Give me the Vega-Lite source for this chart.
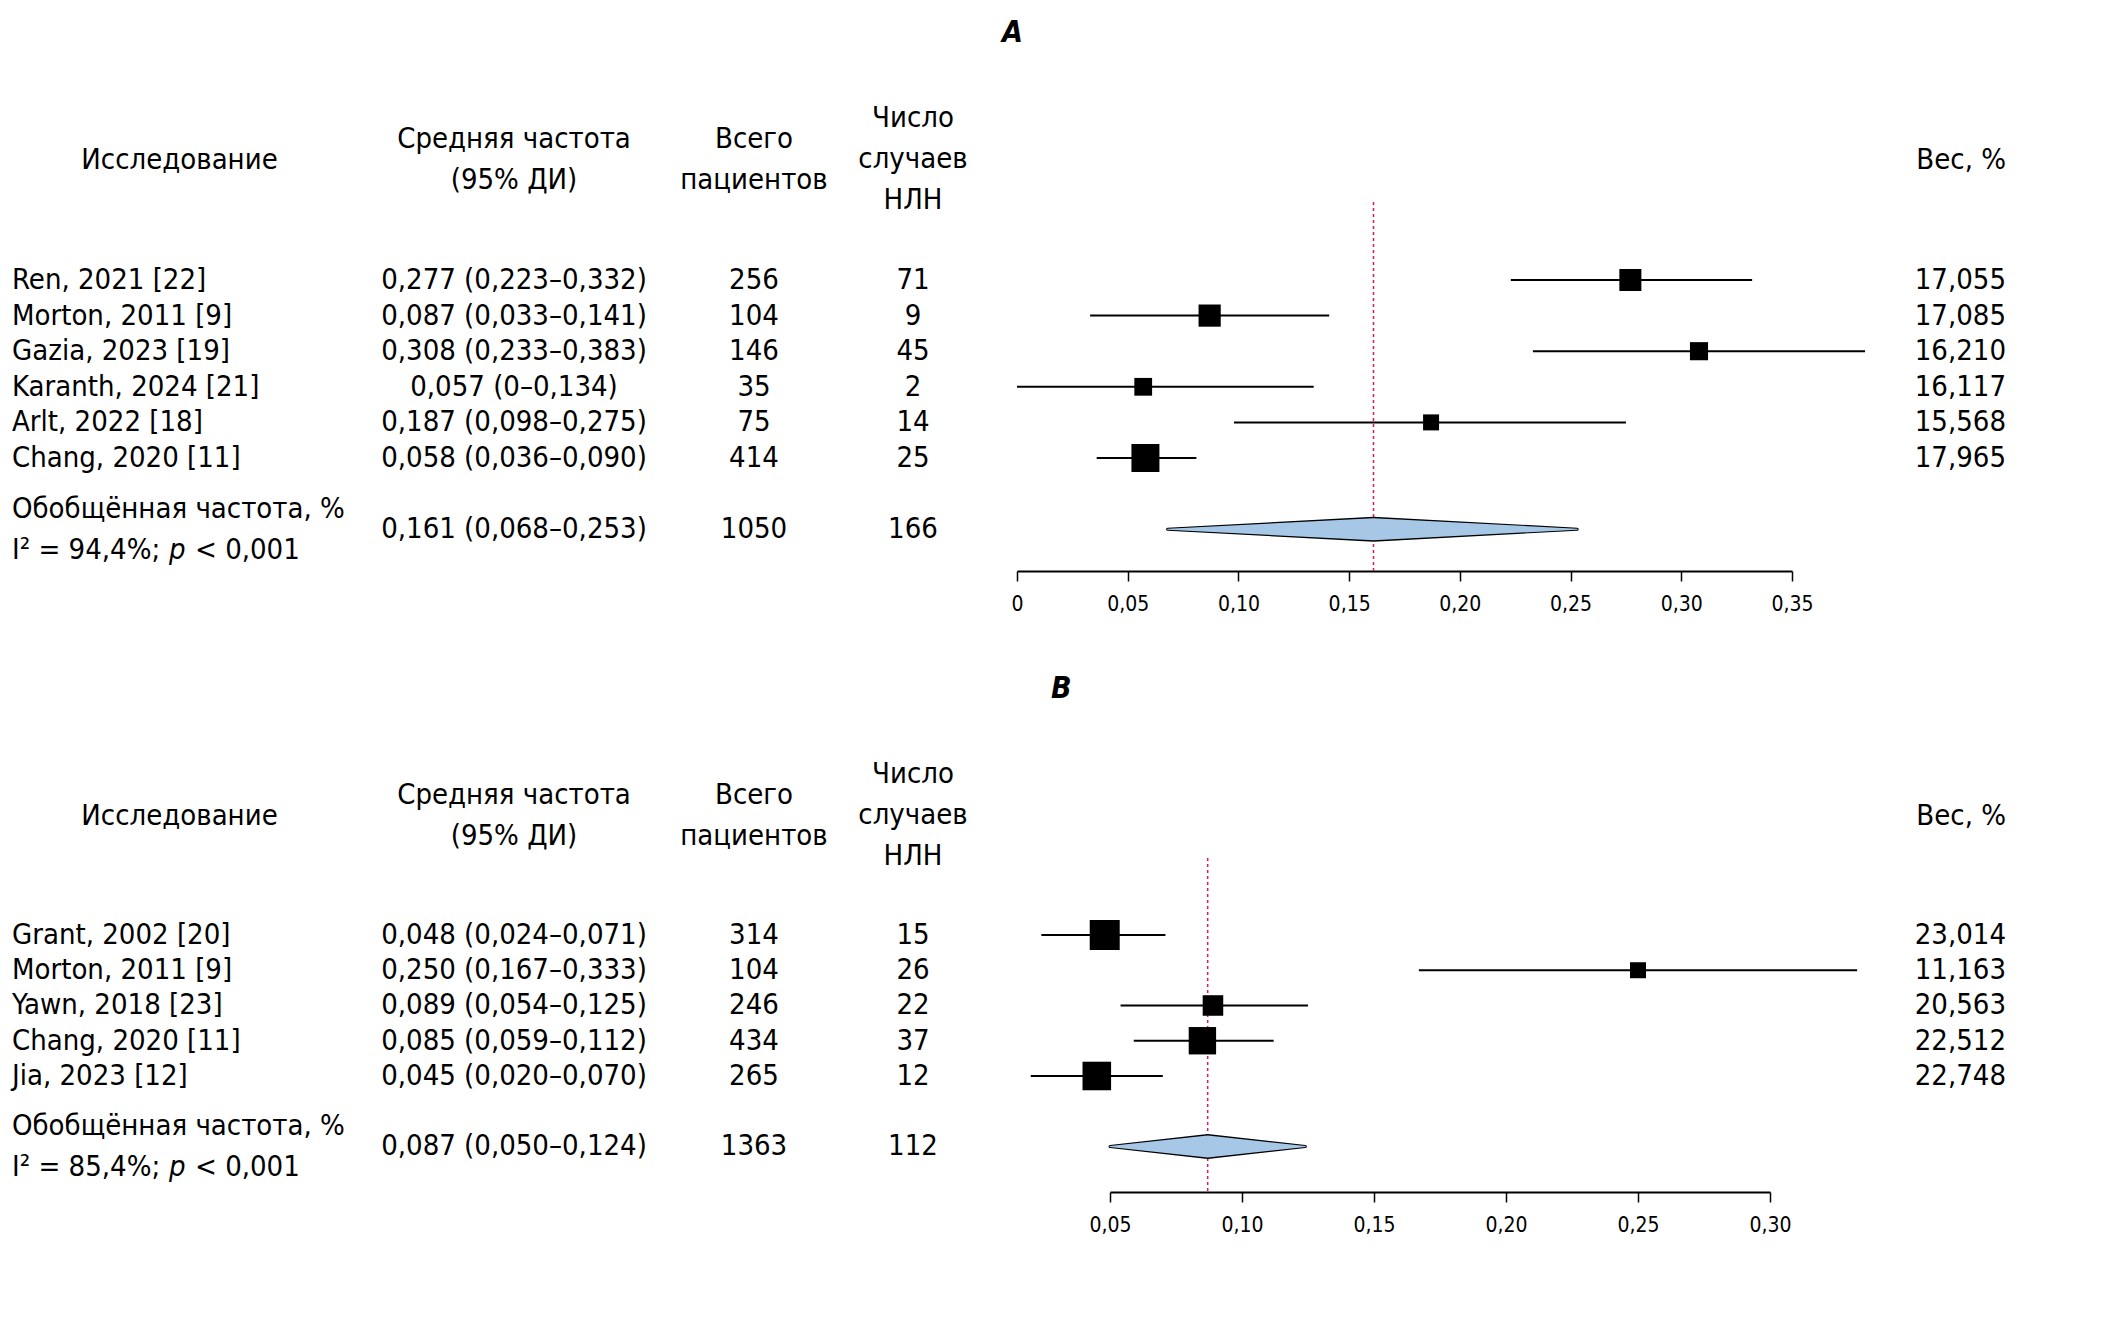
{
  "$schema": "https://vega.github.io/schema/vega-lite/v6.json",
  "background": "white",
  "padding": {"left": 12, "top": 18, "right": 0, "bottom": 0},
  "columns": 6,
  "bounds": "flush",
  "spacing": {"row": 287, "column": 0},
  "config": {
    "font": "DejaVu Sans Condensed, Liberation Sans, sans-serif",
    "view": {"stroke": null},
    "text": {"fontSize": 29, "color": "black"},
    "title": {"fontSize": 29, "fontWeight": "normal", "baseline": "middle", "offset": 27, "lineHeight": 41, "frame": "group", "color": "black", "font": "DejaVu Sans Condensed, Liberation Sans, sans-serif"},
    "locale": {"number": {"decimal": ",", "thousands": " ", "grouping": [3], "currency": ["", ""]}}
  },
  "datasets": {
    "a": [
      {"kind": "study", "row": 1, "study": "Ren, 2021 [22]", "est": 0.277, "lo": 0.223, "hi": 0.332, "ci": "0,277 (0,223–0,332)", "n": 256, "events": 71, "weight": 17.055},
      {"kind": "study", "row": 2, "study": "Morton, 2011 [9]", "est": 0.087, "lo": 0.033, "hi": 0.141, "ci": "0,087 (0,033–0,141)", "n": 104, "events": 9, "weight": 17.085},
      {"kind": "study", "row": 3, "study": "Gazia, 2023 [19]", "est": 0.308, "lo": 0.233, "hi": 0.383, "ci": "0,308 (0,233–0,383)", "n": 146, "events": 45, "weight": 16.21},
      {"kind": "study", "row": 4, "study": "Karanth, 2024 [21]", "est": 0.057, "lo": 0.0, "hi": 0.134, "ci": "0,057 (0–0,134)", "n": 35, "events": 2, "weight": 16.117},
      {"kind": "study", "row": 5, "study": "Arlt, 2022 [18]", "est": 0.187, "lo": 0.098, "hi": 0.275, "ci": "0,187 (0,098–0,275)", "n": 75, "events": 14, "weight": 15.568},
      {"kind": "study", "row": 6, "study": "Chang, 2020 [11]", "est": 0.058, "lo": 0.036, "hi": 0.081, "ci": "0,058 (0,036–0,090)", "n": 414, "events": 25, "weight": 17.965},
      {"kind": "pooled", "row": 8, "study": "Обобщённая частота, %", "het": "I² = 94,4%;", "pv": "< 0,001", "est": 0.161, "lo": 0.068, "hi": 0.253, "ci": "0,161 (0,068–0,253)", "n": 1050, "events": 166}
    ],
    "b": [
      {"kind": "study", "row": 1, "study": "Grant, 2002 [20]", "est": 0.048, "lo": 0.024, "hi": 0.071, "ci": "0,048 (0,024–0,071)", "n": 314, "events": 15, "weight": 23.014},
      {"kind": "study", "row": 2, "study": "Morton, 2011 [9]", "est": 0.25, "lo": 0.167, "hi": 0.333, "ci": "0,250 (0,167–0,333)", "n": 104, "events": 26, "weight": 11.163},
      {"kind": "study", "row": 3, "study": "Yawn, 2018 [23]", "est": 0.089, "lo": 0.054, "hi": 0.125, "ci": "0,089 (0,054–0,125)", "n": 246, "events": 22, "weight": 20.563},
      {"kind": "study", "row": 4, "study": "Chang, 2020 [11]", "est": 0.085, "lo": 0.059, "hi": 0.112, "ci": "0,085 (0,059–0,112)", "n": 434, "events": 37, "weight": 22.512},
      {"kind": "study", "row": 5, "study": "Jia, 2023 [12]", "est": 0.045, "lo": 0.02, "hi": 0.07, "ci": "0,045 (0,020–0,070)", "n": 265, "events": 12, "weight": 22.748},
      {"kind": "pooled", "row": 7, "study": "Обобщённая частота, %", "het": "I² = 85,4%;", "pv": "< 0,001", "est": 0.087, "lo": 0.05, "hi": 0.124, "ci": "0,087 (0,050–0,124)", "n": 1363, "events": 112}
    ]
  },
  "concat": [
    {
      "width": 317, "height": 369, "data": {"name": "a"},
      "title": {"text": "Исследование", "dx": 9, "offset": 27},
      "encoding": {
        "x": {"datum": 0, "type": "quantitative", "scale": {"domain": [0, 1]}, "axis": null},
        "y": {"field": "row", "type": "quantitative", "scale": {"domain": [-1.191, 9.174], "reverse": true, "nice": false, "zero": false}, "axis": null}
      },
      "layer": [
        {"transform": [{"filter": "datum.kind == 'study'"}], "mark": {"type": "text", "align": "left", "baseline": "middle"}, "encoding": {"text": {"field": "study"}}},
        {"transform": [{"filter": "datum.kind == 'pooled'"}], "mark": {"type": "text", "align": "left", "baseline": "middle", "dy": -20}, "encoding": {"text": {"field": "study"}}},
        {"transform": [{"filter": "datum.kind == 'pooled'"}], "mark": {"type": "text", "align": "left", "baseline": "middle", "dy": 21}, "encoding": {"text": {"field": "het"}}},
        {"transform": [{"filter": "datum.kind == 'pooled'"}], "mark": {"type": "text", "align": "left", "baseline": "middle", "dy": 21, "dx": 157, "fontStyle": "italic", "text": "p"}},
        {"transform": [{"filter": "datum.kind == 'pooled'"}], "mark": {"type": "text", "align": "left", "baseline": "middle", "dy": 21, "dx": 183}, "encoding": {"text": {"field": "pv"}}}
      ]
    },
    {
      "width": 370, "height": 369, "data": {"name": "a"},
      "title": {"text": ["Средняя частота", "(95% ДИ)"], "offset": 7},
      "mark": {"type": "text", "align": "center", "baseline": "middle"},
      "encoding": {
        "y": {"field": "row", "type": "quantitative", "scale": {"domain": [-1.191, 9.174], "reverse": true, "nice": false, "zero": false}, "axis": null},
        "text": {"field": "ci"}
      }
    },
    {
      "width": 110, "height": 369, "data": {"name": "a"},
      "title": {"text": ["Всего", "пациентов"], "offset": 7},
      "mark": {"type": "text", "align": "center", "baseline": "middle"},
      "encoding": {
        "y": {"field": "row", "type": "quantitative", "scale": {"domain": [-1.191, 9.174], "reverse": true, "nice": false, "zero": false}, "axis": null},
        "text": {"field": "n", "type": "quantitative", "format": "d"}
      }
    },
    {
      "width": 208, "height": 369, "data": {"name": "a"},
      "title": {"text": ["Число", "случаев", "НЛН"], "offset": -13},
      "mark": {"type": "text", "align": "center", "baseline": "middle"},
      "encoding": {
        "y": {"field": "row", "type": "quantitative", "scale": {"domain": [-1.191, 9.174], "reverse": true, "nice": false, "zero": false}, "axis": null},
        "text": {"field": "events", "type": "quantitative", "format": "d"}
      }
    },
    {
      "width": 775, "height": 369, "data": {"name": "a"},
      "title": {"text": "A", "anchor": "start", "dx": -15, "offset": 153, "fontWeight": "bold", "fontStyle": "italic", "fontSize": 30},
      "resolve": {"scale": {"size": "independent"}},
      "layer": [
        {
          "transform": [{"filter": "datum.kind == 'pooled'"}],
          "mark": {"type": "rule", "color": "#d81b60", "strokeDash": [3, 3], "strokeWidth": 1.5},
          "encoding": {
            "x": {"field": "est", "type": "quantitative", "title": null, "scale": {"domain": [0, 0.35], "nice": false, "zero": false},
              "axis": {"values": [0, 0.05, 0.1, 0.15, 0.2, 0.25, 0.3, 0.35], "labelExpr": "datum.value == 0 ? '0' : format(datum.value, '.2f')", "grid": false, "domainColor": "black", "domainWidth": 2, "tickColor": "black", "tickWidth": 1.5, "tickSize": 10, "labelFontSize": 21, "labelPadding": 12, "labelColor": "black", "labelFlush": false, "labelOverlap": false, "title": null}}
          }
        },
        {
          "transform": [{"filter": "datum.kind == 'study'"}],
          "mark": {"type": "rule", "color": "black", "strokeWidth": 2},
          "encoding": {
            "x": {"field": "lo", "type": "quantitative", "title": null},
            "x2": {"field": "hi"},
            "y": {"field": "row", "type": "quantitative", "scale": {"domain": [-1.191, 9.174], "reverse": true, "nice": false, "zero": false}, "axis": null}
          }
        },
        {
          "transform": [{"filter": "datum.kind == 'study'"}],
          "mark": {"type": "square", "filled": true, "color": "black", "opacity": 1},
          "encoding": {
            "x": {"field": "est", "type": "quantitative", "title": null},
            "y": {"field": "row", "type": "quantitative"},
            "size": {"field": "weight", "type": "quantitative", "scale": {"type": "pow", "exponent": 12, "zero": false, "domain": [15.568, 17.965], "range": [256, 784]}, "legend": null}
          }
        },
        {
          "transform": [{"filter": "datum.kind == 'pooled'"}, {"fold": ["lo", "est", "hi"]}],
          "mark": {"type": "trail", "color": "black"},
          "encoding": {
            "x": {"field": "value", "type": "quantitative", "title": null},
            "y": {"field": "row", "type": "quantitative"},
            "size": {"field": "key", "type": "nominal", "scale": {"type": "ordinal", "domain": ["lo", "est", "hi"], "range": [3, 25, 3]}, "legend": null}
          }
        },
        {
          "transform": [{"filter": "datum.kind == 'pooled'"}, {"fold": ["lo", "est", "hi"]}],
          "mark": {"type": "trail", "color": "#a7c7e7"},
          "encoding": {
            "x": {"field": "value", "type": "quantitative", "title": null},
            "y": {"field": "row", "type": "quantitative"},
            "size": {"field": "key", "type": "nominal", "scale": {"type": "ordinal", "domain": ["lo", "est", "hi"], "range": [0, 22, 0]}, "legend": null}
          }
        }
      ]
    },
    {
      "width": 214, "height": 369, "data": {"name": "a"},
      "title": {"text": "Вес, %", "anchor": "end", "offset": 27},
      "transform": [{"filter": "datum.kind == 'study'"}],
      "mark": {"type": "text", "align": "right", "baseline": "middle"},
      "encoding": {
        "x": {"datum": 1, "type": "quantitative", "scale": {"domain": [0, 1]}, "axis": null},
        "y": {"field": "row", "type": "quantitative", "scale": {"domain": [-1.191, 9.174], "reverse": true, "nice": false, "zero": false}, "axis": null},
        "text": {"field": "weight", "type": "quantitative", "format": ".3f"}
      }
    },
    {
      "width": 317, "height": 334, "data": {"name": "b"},
      "title": {"text": "Исследование", "dx": 9, "offset": 27},
      "encoding": {
        "x": {"datum": 0, "type": "quantitative", "scale": {"domain": [0, 1]}, "axis": null},
        "y": {"field": "row", "type": "quantitative", "scale": {"domain": [-1.184, 8.291], "reverse": true, "nice": false, "zero": false}, "axis": null}
      },
      "layer": [
        {"transform": [{"filter": "datum.kind == 'study'"}], "mark": {"type": "text", "align": "left", "baseline": "middle"}, "encoding": {"text": {"field": "study"}}},
        {"transform": [{"filter": "datum.kind == 'pooled'"}], "mark": {"type": "text", "align": "left", "baseline": "middle", "dy": -20}, "encoding": {"text": {"field": "study"}}},
        {"transform": [{"filter": "datum.kind == 'pooled'"}], "mark": {"type": "text", "align": "left", "baseline": "middle", "dy": 21}, "encoding": {"text": {"field": "het"}}},
        {"transform": [{"filter": "datum.kind == 'pooled'"}], "mark": {"type": "text", "align": "left", "baseline": "middle", "dy": 21, "dx": 157, "fontStyle": "italic", "text": "p"}},
        {"transform": [{"filter": "datum.kind == 'pooled'"}], "mark": {"type": "text", "align": "left", "baseline": "middle", "dy": 21, "dx": 183}, "encoding": {"text": {"field": "pv"}}}
      ]
    },
    {
      "width": 370, "height": 334, "data": {"name": "b"},
      "title": {"text": ["Средняя частота", "(95% ДИ)"], "offset": 7},
      "mark": {"type": "text", "align": "center", "baseline": "middle"},
      "encoding": {
        "y": {"field": "row", "type": "quantitative", "scale": {"domain": [-1.184, 8.291], "reverse": true, "nice": false, "zero": false}, "axis": null},
        "text": {"field": "ci"}
      }
    },
    {
      "width": 110, "height": 334, "data": {"name": "b"},
      "title": {"text": ["Всего", "пациентов"], "offset": 7},
      "mark": {"type": "text", "align": "center", "baseline": "middle"},
      "encoding": {
        "y": {"field": "row", "type": "quantitative", "scale": {"domain": [-1.184, 8.291], "reverse": true, "nice": false, "zero": false}, "axis": null},
        "text": {"field": "n", "type": "quantitative", "format": "d"}
      }
    },
    {
      "width": 208, "height": 334, "data": {"name": "b"},
      "title": {"text": ["Число", "случаев", "НЛН"], "offset": -13},
      "mark": {"type": "text", "align": "center", "baseline": "middle"},
      "encoding": {
        "y": {"field": "row", "type": "quantitative", "scale": {"domain": [-1.184, 8.291], "reverse": true, "nice": false, "zero": false}, "axis": null},
        "text": {"field": "events", "type": "quantitative", "format": "d"}
      }
    },
    {
      "width": 775, "height": 334, "data": {"name": "b"},
      "title": {"text": "B", "anchor": "start", "dx": 34, "offset": 153, "fontWeight": "bold", "fontStyle": "italic", "fontSize": 30},
      "resolve": {"scale": {"size": "independent"}},
      "layer": [
        {
          "transform": [{"filter": "datum.kind == 'pooled'"}],
          "mark": {"type": "rule", "color": "#d81b60", "strokeDash": [3, 3], "strokeWidth": 1.5},
          "encoding": {
            "x": {"field": "est", "type": "quantitative", "title": null, "scale": {"domain": [0.05, 0.3], "range": [93, 753], "nice": false, "zero": false},
              "axis": {"values": [0.05, 0.1, 0.15, 0.2, 0.25, 0.3], "labelExpr": "format(datum.value, '.2f')", "grid": false, "domainColor": "black", "domainWidth": 2, "tickColor": "black", "tickWidth": 1.5, "tickSize": 10, "labelFontSize": 21, "labelPadding": 12, "labelColor": "black", "labelFlush": false, "labelOverlap": false, "title": null}}
          }
        },
        {
          "transform": [{"filter": "datum.kind == 'study'"}],
          "mark": {"type": "rule", "color": "black", "strokeWidth": 2},
          "encoding": {
            "x": {"field": "lo", "type": "quantitative", "title": null},
            "x2": {"field": "hi"},
            "y": {"field": "row", "type": "quantitative", "scale": {"domain": [-1.184, 8.291], "reverse": true, "nice": false, "zero": false}, "axis": null}
          }
        },
        {
          "transform": [{"filter": "datum.kind == 'study'"}],
          "mark": {"type": "square", "filled": true, "color": "black", "opacity": 1},
          "encoding": {
            "x": {"field": "est", "type": "quantitative", "title": null},
            "y": {"field": "row", "type": "quantitative"},
            "size": {"field": "weight", "type": "quantitative", "scale": {"type": "pow", "exponent": 12, "zero": false, "domain": [11.163, 23.014], "range": [256, 900]}, "legend": null}
          }
        },
        {
          "transform": [{"filter": "datum.kind == 'pooled'"}, {"fold": ["lo", "est", "hi"]}],
          "mark": {"type": "trail", "color": "black"},
          "encoding": {
            "x": {"field": "value", "type": "quantitative", "title": null},
            "y": {"field": "row", "type": "quantitative"},
            "size": {"field": "key", "type": "nominal", "scale": {"type": "ordinal", "domain": ["lo", "est", "hi"], "range": [3, 25, 3]}, "legend": null}
          }
        },
        {
          "transform": [{"filter": "datum.kind == 'pooled'"}, {"fold": ["lo", "est", "hi"]}],
          "mark": {"type": "trail", "color": "#a7c7e7"},
          "encoding": {
            "x": {"field": "value", "type": "quantitative", "title": null},
            "y": {"field": "row", "type": "quantitative"},
            "size": {"field": "key", "type": "nominal", "scale": {"type": "ordinal", "domain": ["lo", "est", "hi"], "range": [0, 22, 0]}, "legend": null}
          }
        }
      ]
    },
    {
      "width": 214, "height": 334, "data": {"name": "b"},
      "title": {"text": "Вес, %", "anchor": "end", "offset": 27},
      "transform": [{"filter": "datum.kind == 'study'"}],
      "mark": {"type": "text", "align": "right", "baseline": "middle"},
      "encoding": {
        "x": {"datum": 1, "type": "quantitative", "scale": {"domain": [0, 1]}, "axis": null},
        "y": {"field": "row", "type": "quantitative", "scale": {"domain": [-1.184, 8.291], "reverse": true, "nice": false, "zero": false}, "axis": null},
        "text": {"field": "weight", "type": "quantitative", "format": ".3f"}
      }
    }
  ]
}
